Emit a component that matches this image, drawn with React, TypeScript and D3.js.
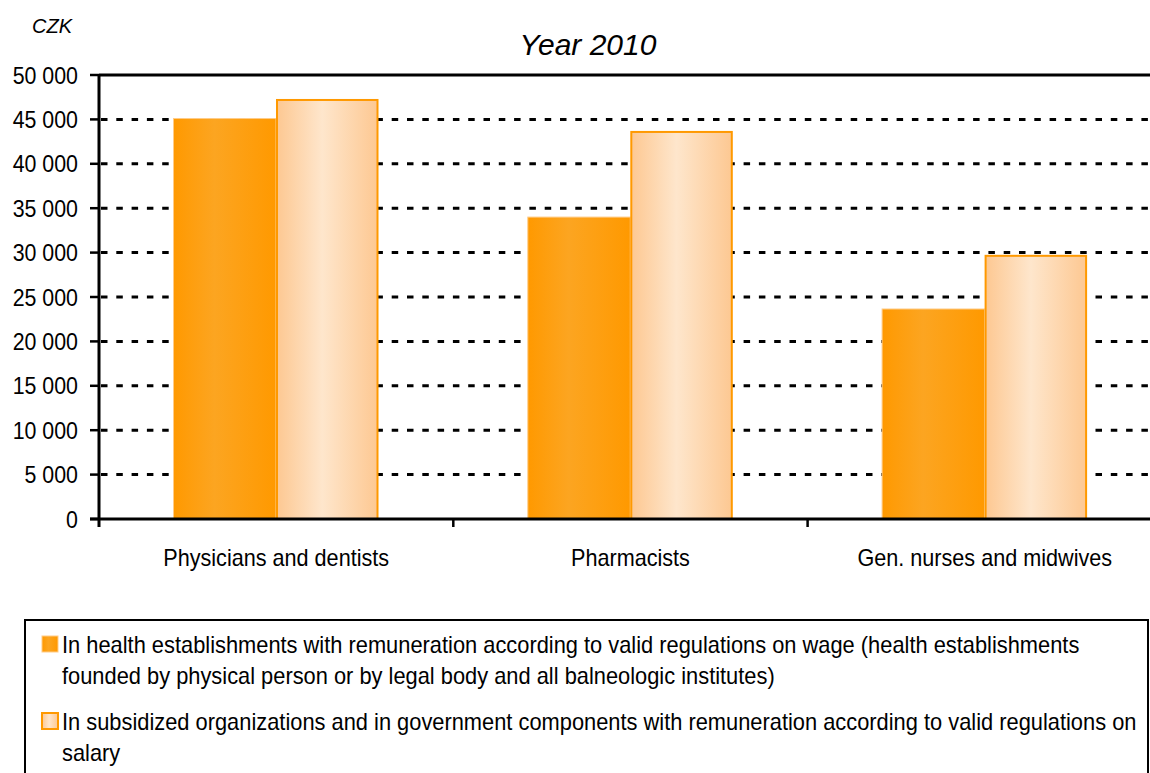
import React, { useRef, useEffect } from 'react';
import * as d3 from 'd3';

const categories = ['Physicians and dentists', 'Pharmacists', 'Gen. nurses and midwives'];
const seriesKeys = ['wage', 'salary'];
const wageValues = [45100, 34000, 23650];
const salaryValues = [47300, 43700, 29750];
const yTicks = [0, 5000, 10000, 15000, 20000, 25000, 30000, 35000, 40000, 45000, 50000];
const legendLines = [
  [
    'In health establishments with remuneration according to valid regulations on wage (health establishments',
    'founded by physical person or by legal body and all balneologic institutes)',
  ],
  [
    'In subsidized organizations and in government components with remuneration according to valid regulations on',
    'salary',
  ],
];

const FONT = '"Liberation Sans", Arial, sans-serif';

const App = () => {
  const svgRef = useRef<SVGSVGElement>(null);

  useEffect(() => {
    const svg = d3.select(svgRef.current);
    svg.selectAll('*').remove();

    const width = 1150;
    const left = 99;
    const top = 75;
    const bottom = 519;

    // narrow-ish text: the original font is taller than it is wide
    const label = (sel: any, x: number, y: number, size: number, sx: number, anchor: string, txt: string) =>
      sel.append('text')
        .attr('transform', `translate(${x},${y}) scale(${sx},1)`)
        .attr('text-anchor', anchor)
        .attr('font-family', FONT)
        .attr('font-size', size)
        .attr('fill', '#000')
        .text(txt);

    const defs = svg.append('defs');
    const g1 = defs.append('linearGradient').attr('id', 'gWage').attr('x1', '0').attr('x2', '1').attr('y1', '0').attr('y2', '0');
    g1.append('stop').attr('offset', '0').attr('stop-color', '#ff9900');
    g1.append('stop').attr('offset', '0.4').attr('stop-color', '#fca521');
    g1.append('stop').attr('offset', '1').attr('stop-color', '#ff9900');
    const g2 = defs.append('linearGradient').attr('id', 'gSalary').attr('x1', '0').attr('x2', '1').attr('y1', '0').attr('y2', '0');
    g2.append('stop').attr('offset', '0').attr('stop-color', '#fdc892');
    g2.append('stop').attr('offset', '0.45').attr('stop-color', '#fee6cc');
    g2.append('stop').attr('offset', '1').attr('stop-color', '#fdc892');

    const x0 = d3.scaleBand().domain(categories).range([left, left + 3 * 354.3]).paddingInner(0);
    const x1 = d3.scaleBand().domain(seriesKeys).range([74.5, 279.5]);
    const y = d3.scaleLinear().domain([0, 50000]).range([bottom, top]);

    const fmt = (v: number) => d3.format(',')(v).replace(/,/g, ' ');

    // grid lines
    svg.append('g')
      .selectAll('line')
      .data(yTicks.filter(t => t > 0 && t < 50000))
      .join('line')
      .attr('x1', left + 2)
      .attr('x2', width)
      .attr('y1', d => y(d))
      .attr('y2', d => y(d))
      .attr('stroke', '#000')
      .attr('stroke-width', 3)
      .attr('stroke-dasharray', '6.5,8.8');

    // top border line
    svg.append('line')
      .attr('x1', left).attr('x2', width)
      .attr('y1', y(50000)).attr('y2', y(50000))
      .attr('stroke', '#000').attr('stroke-width', 3);

    // bars
    const groups = svg.append('g')
      .selectAll('g')
      .data(categories)
      .join('g')
      .attr('transform', d => `translate(${x0(d)},0)`);

    groups.append('rect')
      .attr('x', x1('wage')!)
      .attr('width', x1.bandwidth())
      .attr('y', (d, i) => y(wageValues[i]))
      .attr('height', (d, i) => y(0) - y(wageValues[i]))
      .attr('fill', 'url(#gWage)')
      .attr('stroke', '#ffcc88')
      .attr('stroke-width', 1);

    groups.append('rect')
      .attr('x', x1('salary')! + 1)
      .attr('width', x1.bandwidth() - 2)
      .attr('y', (d, i) => y(salaryValues[i]) + 1)
      .attr('height', (d, i) => y(0) - y(salaryValues[i]) - 1)
      .attr('fill', 'url(#gSalary)')
      .attr('stroke', '#ff9900')
      .attr('stroke-width', 2);

    // y axis
    svg.append('line')
      .attr('x1', left).attr('x2', left)
      .attr('y1', top).attr('y2', bottom + 8)
      .attr('stroke', '#000').attr('stroke-width', 3);
    svg.append('g')
      .selectAll('line')
      .data(yTicks)
      .join('line')
      .attr('x1', left - 9).attr('x2', left)
      .attr('y1', d => y(d)).attr('y2', d => y(d))
      .attr('stroke', '#000').attr('stroke-width', 2.5);
    const yLab = svg.append('g');
    yTicks.forEach(t => label(yLab, 78, y(t) + 8.5, 24, 0.89, 'end', fmt(t)));

    // x axis
    svg.append('line')
      .attr('x1', left - 9).attr('x2', width)
      .attr('y1', bottom).attr('y2', bottom)
      .attr('stroke', '#000').attr('stroke-width', 3);
    svg.append('g')
      .selectAll('line')
      .data(categories.slice(1))
      .join('line')
      .attr('x1', d => x0(d)!).attr('x2', d => x0(d)!)
      .attr('y1', bottom).attr('y2', bottom + 8)
      .attr('stroke', '#000').attr('stroke-width', 2.5);
    const xLab = svg.append('g');
    categories.forEach(c => label(xLab, x0(c)! + x0.bandwidth() / 2, 566, 23, 0.94, 'middle', c));

    // titles
    svg.append('text')
      .attr('x', 588).attr('y', 55)
      .attr('text-anchor', 'middle')
      .attr('font-family', FONT)
      .attr('font-style', 'italic')
      .attr('font-size', 30)
      .attr('fill', '#000')
      .text('Year 2010');
    svg.append('text')
      .attr('x', 32).attr('y', 33)
      .attr('font-family', FONT)
      .attr('font-style', 'italic')
      .attr('font-size', 20)
      .attr('fill', '#000')
      .text('CZK');

    // legend
    const lg = svg.append('g');
    lg.append('rect')
      .attr('x', 25).attr('y', 620)
      .attr('width', 1123).attr('height', 200)
      .attr('fill', '#fff')
      .attr('stroke', '#000')
      .attr('stroke-width', 2);
    const fills = ['url(#gWage)', 'url(#gSalary)'];
    const strokes = ['#ffcc88', '#ff9900'];
    const rowTop = [636, 713];
    legendLines.forEach((lines, i) => {
      lg.append('rect')
        .attr('x', 42).attr('y', rowTop[i])
        .attr('width', 16).attr('height', 16)
        .attr('fill', fills[i])
        .attr('stroke', strokes[i])
        .attr('stroke-width', i === 0 ? 1 : 2);
      lines.forEach((line, j) => label(lg, 62, rowTop[i] + 17 + j * 31, 23, 0.95, 'start', line));
    });
  }, []);

  return (
    <svg
      ref={svgRef}
      width={1150}
      height={773}
      style={{ position: 'absolute', left: 0, top: 0, background: '#fff' }}
    />
  );
};

export default App;
